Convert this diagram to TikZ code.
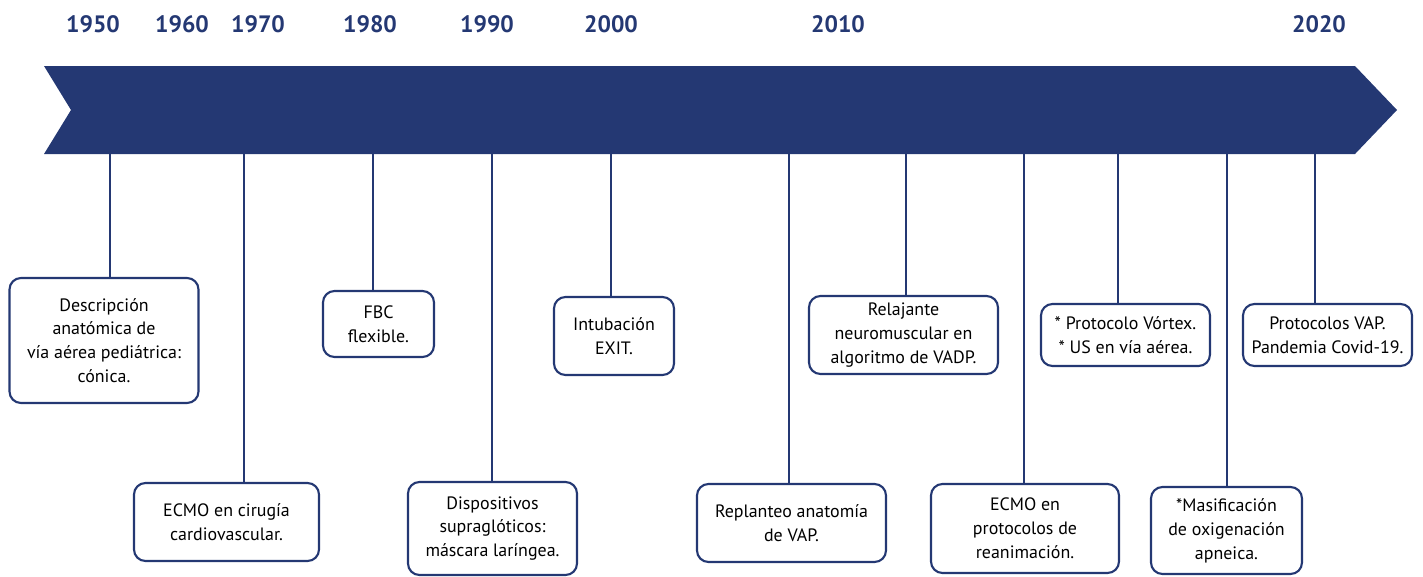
\documentclass[tikz,border=0pt]{standalone}
\usepackage{fontspec}
\setmainfont{PT Sans}
\usetikzlibrary{positioning}
\definecolor{navyTl}{RGB}{36,56,115}
\tikzset{
	evento/.style={draw=navyTl, line width=1.2pt, rounded corners=6.5pt, align=center, fill=white,
		font=\fontsize{10.2}{13.6}\selectfont, inner sep=1pt},
	anio/.style={text=navyTl, font=\bfseries\fontsize{13.5}{15}\selectfont},
	palo/.style={navyTl, line width=1.1pt}
}
\begin{document}
\begin{tikzpicture}[x={(0.02cm,0)}, y={(0,-0.02cm)}]
			\useasboundingbox (0,0) rectangle (1423,576);

			% banner
			\fill[navyTl] (44,66) -- (1355,66) -- (1397,110) -- (1355,154) -- (44,154) -- (71,110) -- cycle;

			% years
			\node[anio] (y1950) at (93,24) {1950};
			\node[anio] (y1960) at (182,24) {1960};
			\node[anio] (y1970) at (258,24) {1970};
			\node[anio] (y1980) at (370,24) {1980};
			\node[anio] (y1990) at (487,24) {1990};
			\node[anio] (y2000) at (611,24) {2000};
			\node[anio] (y2010) at (838,24) {2010};
			\node[anio] (y2020) at (1319,24) {2020};

			% events
			\node[evento, minimum width=3.78cm, minimum height=2.5cm] (desc) at (104,340.5)
				{Descripción\\anatómica de\\vía aérea pediátrica:\\cónica.};
			\node[evento, minimum width=3.7cm, minimum height=1.56cm] (ecmoA) at (226.5,522)
				{ECMO en cirugía\\cardiovascular.};
			\node[evento, minimum width=2.22cm, minimum height=1.32cm] (fbc) at (378.5,324)
				{FBC\\flexible.};
			\node[evento, minimum width=3.38cm, minimum height=1.86cm] (disp) at (492.5,528.5)
				{Dispositivos\\supraglóticos:\\máscara laríngea.};
			\node[evento, minimum width=2.4cm, minimum height=1.56cm] (intub) at (614,336)
				{Intubación\\EXIT.};
			\node[evento, minimum width=3.78cm, minimum height=1.56cm] (replan) at (791.5,523)
				{Replanteo anatomía\\de VAP.};
			\node[evento, minimum width=3.78cm, minimum height=1.56cm] (relaj) at (903.5,335)
				{Relajante\\neuromuscular en\\algoritmo de VADP.};
			\node[evento, minimum width=3.76cm, minimum height=1.78cm] (ecmoB) at (1025,528.5)
				{ECMO en\\protocolos de\\reanimación.};
			\node[evento, minimum width=3.38cm, minimum height=1.24cm] (vortex) at (1125.5,335)
				{* Protocolo Vórtex.\\* US en vía aérea.};
			\node[evento, minimum width=3.02cm, minimum height=1.74cm] (masif) at (1226.5,530.5)
				{*Masificación\\de oxigenación\\apneica.};
			\node[evento, minimum width=3.38cm, minimum height=1.24cm] (covid) at (1327.5,335)
				{Protocolos VAP.\\Pandemia Covid-19.};

			% ticks
			\coordinate (t1) at (110,154);
			\coordinate (t2) at (244,154);
			\coordinate (t3) at (373,154);
			\coordinate (t4) at (492,154);
			\coordinate (t5) at (611,154);
			\coordinate (t6) at (789,154);
			\coordinate (t7) at (906,154);
			\coordinate (t8) at (1024,154);
			\coordinate (t9) at (1118,154);
			\coordinate (t10) at (1227,154);
			\coordinate (t11) at (1315,154);
			\draw[palo] (t1) -- (t1 |- desc.north);
			\draw[palo] (t2) -- (t2 |- ecmoA.north);
			\draw[palo] (t3) -- (t3 |- fbc.north);
			\draw[palo] (t4) -- (t4 |- disp.north);
			\draw[palo] (t5) -- (t5 |- intub.north);
			\draw[palo] (t6) -- (t6 |- replan.north);
			\draw[palo] (t7) -- (t7 |- relaj.north);
			\draw[palo] (t8) -- (t8 |- ecmoB.north);
			\draw[palo] (t9) -- (t9 |- vortex.north);
			\draw[palo] (t10) -- (t10 |- masif.north);
			\draw[palo] (t11) -- (t11 |- covid.north);
\end{tikzpicture}
\end{document}
